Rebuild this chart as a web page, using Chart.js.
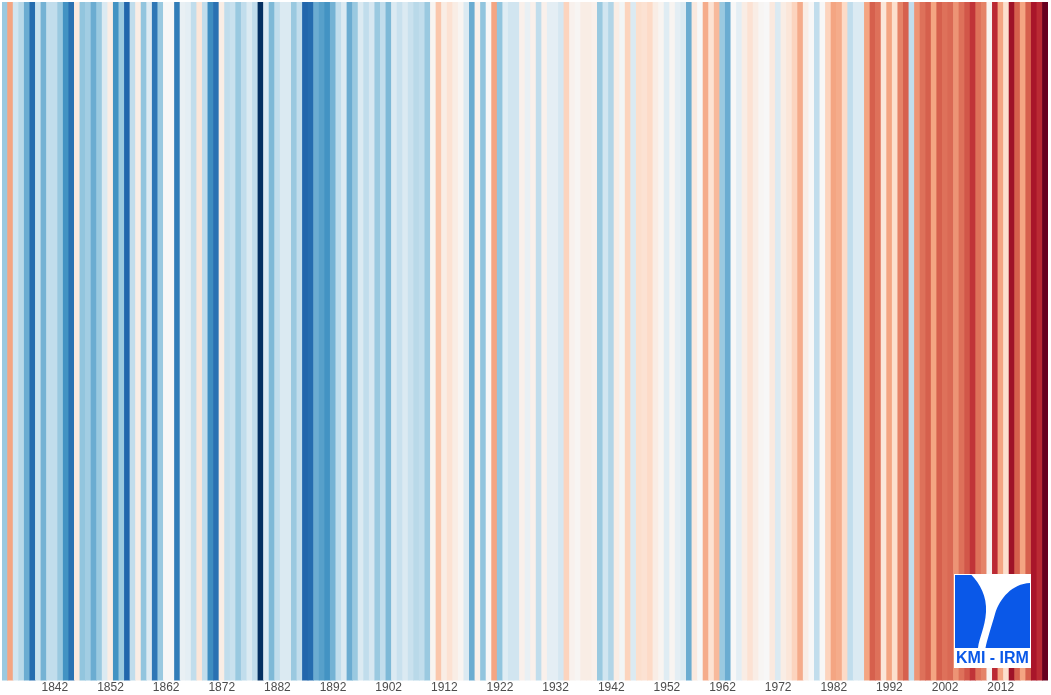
<!DOCTYPE html>
<html>
<head>
<meta charset="utf-8">
<title>Uccle warming stripes</title>
<script src="https://cdn.jsdelivr.net/npm/chart.js@4/dist/chart.umd.min.js"></script>
<style>
  html, body { margin: 0; padding: 0; background: #ffffff; }
  #wrap { width: 1051px; height: 695px; position: relative; }
</style>
</head>
<body>
<div id="wrap"><canvas id="stripes"></canvas></div>
<script>
// years 1833 - 2020 (Uccle)
const firstYear = 1833;
const lastYear = 2020;

// estimated annual anomalies (°C), read from the stripe colours
const anomalies = [
  -0.75, 0.8, -0.4, -0.55, -1.0, -1.55, -0.45, -0.95, -0.5, -0.5,   // 1833-1842
  -0.75, -1.2, -1.5, 0.2, -0.8, -0.7, -1.0, -0.75, -0.3, 0.15,      // 1843-1852
  -1.2, -0.75, -1.6, -0.5, 0.15, -0.8, -0.3, -1.45, -0.75, 0.0,     // 1853-1862
  0.0, -1.4, -0.15, -0.2, -0.5, 0.25, -0.5, -1.25, -1.5, 0.15,      // 1863-1872
  -0.5, -0.45, -0.75, -0.5, -0.3, -0.5, -2.0, -0.3, -0.9, -0.5,     // 1873-1882
  -0.3, -0.3, -0.75, -0.5, -1.6, -1.55, -1.0, -1.1, -1.2, -0.95,    // 1883-1892
  -0.5, -0.3, -1.0, -0.75, -0.3, -0.5, -0.35, -0.75, -0.5, -0.9,    // 1893-1902
  -0.3, -0.45, -0.3, -0.45, -0.55, -0.5, -0.75, 0.05, 0.55, 0.15,   // 1903-1912
  0.3, 0.15, 0.05, -0.3, -1.0, 0.1, -0.8, 0.0, 0.8, -0.8,           // 1913-1922
  -0.25, -0.4, -0.4, 0.1, -0.15, 0.1, -0.5, 0.1, -0.2, -0.2,        // 1923-1932
  -0.35, 0.45, 0.08, 0.03, 0.15, 0.15, 0.1, -0.75, -0.4, -0.6,      // 1933-1942
  0.15, -0.05, 0.45, -0.3, 0.35, 0.3, 0.4, 0.15, 0.05, -0.25,       // 1943-1952
  0.05, -0.2, -0.3, -1.0, 0.2, 0.0, 0.75, 0.3, 0.65, -0.75,         // 1953-1962
  -1.0, 0.0, -0.2, 0.15, 0.3, 0.15, 0.03, 0.0, 0.2, -0.3,           // 1963-1972
  0.15, 0.25, 0.45, 0.75, 0.15, 0.0, -0.5, 0.0, 0.45, 0.8,          // 1973-1982
  0.75, 0.4, -0.5, -0.3, -0.3, 0.8, 1.2, 1.1, 0.25, 0.8,            // 1983-1992
  0.35, 1.0, 1.2, -0.5, 0.9, 1.1, 1.2, 0.8, 1.2, 1.1,               // 1993-2002
  1.15, 0.9, 1.1, 1.25, 1.45, 1.1, 1.0, 0.05, 1.5, 0.8,             // 2003-2012
  0.35, 1.7, 1.2, 0.8, 1.2, 1.65, 1.5, 2.0                          // 2013-2020
];

const years = [];
for (let y = firstYear; y <= lastYear; y++) years.push(String(y));

// tick labels shown under the stripes
const tickYears = ['1842', '1852', '1862', '1872', '1882', '1892', '1902', '1912', '1922',
  '1932', '1942', '1952', '1962', '1972', '1982', '1992', '2002', '2012'];

// RdBu (reversed) colour map, anomaly range -2 .. +2 °C
const rdbu = ['#053061', '#2166ac', '#4393c3', '#92c5de', '#d1e5f0', '#f7f7f7',
  '#fddbc7', '#f4a582', '#d6604d', '#b2182b', '#67001f'];
const vmin = -2, vmax = 2;

function hexToRgb(h) {
  return [parseInt(h.slice(1, 3), 16), parseInt(h.slice(3, 5), 16), parseInt(h.slice(5, 7), 16)];
}

function stripeColor(v) {
  let t = (v - vmin) / (vmax - vmin);
  t = Math.max(0, Math.min(1, t));
  const pos = t * (rdbu.length - 1);
  const i = Math.min(Math.floor(pos), rdbu.length - 2);
  const f = pos - i;
  const a = hexToRgb(rdbu[i]), b = hexToRgb(rdbu[i + 1]);
  const c = a.map((x, k) => Math.round(x + (b[k] - x) * f));
  return 'rgb(' + c.join(',') + ')';
}

// KMI - IRM logo in the lower right corner
const logoPlugin = {
  id: 'kmiLogo',
  afterDraw(chart) {
    const ctx = chart.ctx;
    const x0 = 954, y0 = 574, w = 77, h = 94;
    const blue = '#0a58e8';
    ctx.save();
    ctx.fillStyle = '#ffffff';
    ctx.fillRect(x0, y0, w, h);
    // blue square
    ctx.fillStyle = blue;
    ctx.fillRect(955, 575, 75, 73);
    // white funnel shape
    ctx.fillStyle = '#ffffff';
    ctx.beginPath();
    ctx.moveTo(971.5, 575);
    ctx.lineTo(1030, 575);
    ctx.lineTo(1030, 583);
    ctx.bezierCurveTo(1012, 584, 1000, 598, 995, 614);
    ctx.bezierCurveTo(991, 628, 987, 640, 985.5, 648);
    ctx.lineTo(978, 648);
    ctx.bezierCurveTo(979, 638, 985, 628, 986, 612);
    ctx.bezierCurveTo(987, 596, 980, 584, 971.5, 575);
    ctx.closePath();
    ctx.fill();
    // text
    ctx.fillStyle = blue;
    ctx.font = 'bold 16px "Liberation Sans Narrow", "Liberation Sans", Arial, sans-serif';
    ctx.textAlign = 'center';
    ctx.textBaseline = 'middle';
    ctx.fillText('KMI - IRM', 992.5, 659, 74);
    ctx.restore();
  }
};

new Chart(document.getElementById('stripes'), {
  type: 'bar',
  data: {
    labels: years,
    datasets: [
      {
        label: 'Anomaly',
        data: years.map(() => 1),
        backgroundColor: anomalies.map(stripeColor),
        borderWidth: 0,
        categoryPercentage: 1.0,
        barPercentage: 1.0
      }
    ]
  },
  options: {
    responsive: true,
    maintainAspectRatio: false,
    animation: false,
    layout: {
      padding: { top: 2, left: 2, right: 3, bottom: 0 }
    },
    plugins: {
      legend: { display: false },
      tooltip: { enabled: false }
    },
    scales: {
      x: {
        grid: { display: false, drawTicks: false },
        border: { display: false },
        ticks: {
          autoSkip: false,
          maxRotation: 0,
          padding: 0,
          color: '#4d4d4d',
          font: { family: '"Liberation Sans", Arial, sans-serif', size: 12 },
          callback: function (val) {
            const lbl = this.getLabelForValue(val);
            return tickYears.includes(lbl) ? lbl : '';
          }
        }
      },
      y: {
        display: false,
        min: 0,
        max: 1
      }
    }
  },
  plugins: [logoPlugin]
});
</script>
</body>
</html>
